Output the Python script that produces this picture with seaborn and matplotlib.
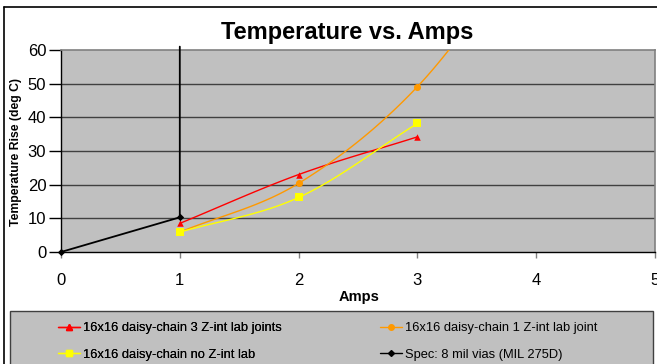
import numpy as np
import pandas as pd
import matplotlib
matplotlib.use("Agg")
import matplotlib.pyplot as plt
from matplotlib.lines import Line2D
from matplotlib.patches import Rectangle
import seaborn as sns

sns.set_theme(style="white")
plt.rcParams["font.family"] = ["Liberation Sans", "DejaVu Sans"]
plt.rcParams["text.color"] = "black"
plt.rcParams["xtick.color"] = "black"
plt.rcParams["ytick.color"] = "black"

# ---- data -------------------------------------------------------------
amps_3joint = [1, 2, 3]
temp_3joint = [8.5, 23.0, 34.2]

amps_1joint = [1, 2, 3, 4]
temp_1joint = [5.9, 20.4, 49.1, 95.0]

amps_nojoint = [1, 2, 3]
temp_nojoint = [5.9, 16.2, 38.2]

amps_spec = [0, 1, 1]
temp_spec = [0.0, 10.3, 61.0]

series_names = [
    "16x16 daisy-chain 3 Z-int lab joints",
    "16x16 daisy-chain 1 Z-int lab joint",
    "16x16 daisy-chain no Z-int lab",
    "Spec: 8 mil vias (MIL 275D)",
]
x_ticks = [0, 1, 2, 3, 4, 5]
y_ticks = [0, 10, 20, 30, 40, 50, 60]

RED, ORANGE, YELLOW, BLACK = "#ff0000", "#ff9900", "#ffff00", "#000000"
PLOT_BG = "#c0c0c0"
W, H = 657, 364


def smooth(xs, ys, n=40):
    """Catmull-Rom style smoothing through the given points."""
    p = np.column_stack([xs, ys]).astype(float)
    ext = np.vstack([2 * p[0] - p[1], p, 2 * p[-1] - p[-2]])
    out = []
    for i in range(1, len(ext) - 2):
        p0, p1, p2, p3 = ext[i - 1], ext[i], ext[i + 1], ext[i + 2]
        c1 = p1 + (p2 - p0) / 6
        c2 = p2 - (p3 - p1) / 6
        t = np.linspace(0, 1, n)[:, None]
        seg = ((1 - t) ** 3) * p1 + 3 * ((1 - t) ** 2) * t * c1 \
            + 3 * (1 - t) * t ** 2 * c2 + t ** 3 * p2
        out.append(seg if i == 1 else seg[1:])
    pts = np.vstack(out)
    return pd.DataFrame({"x": pts[:, 0], "y": pts[:, 1]})


def fx(px):
    return px / W


def fy(py):
    return 1 - py / H


fig = plt.figure(figsize=(W / 100, H / 100), dpi=100)
fig.patch.set_facecolor("white")

# chart-area frame (left and top edges)
fig.add_artist(Line2D([fx(4), fx(4)], [0, fy(7)], color="black",
                      lw=1.2, transform=fig.transFigure))
fig.add_artist(Line2D([fx(4), 1], [fy(7), fy(7)], color="black",
                      lw=1.2, transform=fig.transFigure))

ax = fig.add_axes([fx(61), fy(252), (655 - 61) / W, (252 - 50) / H])
ax.set_facecolor(PLOT_BG)
ax.set_xlim(0, 5)
ax.set_ylim(0, 60)

for v in y_ticks[1:-1]:
    ax.axhline(v, color="#404040", lw=1.0, zorder=1)

# smoothed series
for xs, ys, col in [(amps_3joint, temp_3joint, RED),
                    (amps_1joint, temp_1joint, ORANGE),
                    (amps_nojoint, temp_nojoint, YELLOW)]:
    df = smooth(xs, ys)
    sns.lineplot(data=df, x="x", y="y", sort=False, color=col, lw=1.0,
                 ax=ax, zorder=3, estimator=None)

# spec line (straight segments)
spec_df = pd.DataFrame({"x": amps_spec, "y": temp_spec})
sns.lineplot(data=spec_df, x="x", y="y", sort=False, color=BLACK, lw=1.3,
             ax=ax, zorder=4, estimator=None)
ax.lines[-1].set_clip_on(False)

# markers
marker_specs = [
    (amps_3joint, temp_3joint, RED, "^", 22),
    (amps_1joint[:3], temp_1joint[:3], ORANGE, "o", 26),
    (amps_nojoint, temp_nojoint, YELLOW, "s", 30),
    (amps_spec[:2], temp_spec[:2], BLACK, "D", 14),
]
for xs, ys, col, mk, sz in marker_specs:
    sns.scatterplot(x=xs, y=ys, color=col, marker=mk, s=sz, linewidth=0,
                    ax=ax, zorder=5, clip_on=False)

# axes styling
for side in ["top", "right"]:
    ax.spines[side].set_color("#808080")
    ax.spines[side].set_linewidth(1.2)
for side in ["left", "bottom"]:
    ax.spines[side].set_color("#000000")
    ax.spines[side].set_linewidth(1.0)

ax.set_xticks(x_ticks)
ax.set_yticks(y_ticks)
ax.tick_params(axis="x", direction="out", length=4.3, width=1, color="#808080",
               labelcolor="black", pad=11, labelsize=12, bottom=True)
ax.tick_params(axis="y", direction="out", length=8.6, width=1, color="#000000",
               labelcolor="black", pad=2, labelsize=12, left=True)
ax.set_xlabel("")
ax.set_ylabel("")
fig.text(fx(359), fy(297), "Amps", ha="center", va="center",
         fontsize=10.5, fontweight="bold", color="black")
fig.text(fx(16), fy(152), "Temperature Rise (deg C)", ha="center",
         va="center", rotation=90, fontsize=8.8, fontweight="bold",
         color="black")

fig.text(fx(347), fy(33), "Temperature vs. Amps", ha="center",
         va="center", fontsize=17, fontweight="bold", color="black")

# legend box
fig.add_artist(Rectangle((fx(10), -0.05), (653 - 10) / W,
                         0.05 + (H - 311) / H, transform=fig.transFigure,
                         facecolor=PLOT_BG, edgecolor="#404040", lw=1.0))

handles = [
    Line2D([], [], color=RED, marker="^", ms=4, mec=RED, lw=1),
    Line2D([], [], color=ORANGE, marker="o", ms=4, mec=ORANGE, lw=1),
    Line2D([], [], color=YELLOW, marker="s", ms=5, mec=YELLOW, lw=1),
    Line2D([], [], color=BLACK, marker="D", ms=3, mec=BLACK, lw=1),
]
leg_kw = dict(loc="upper left", frameon=False, fontsize=9.3, handlelength=1.7,
              handletextpad=0.25, labelspacing=1.12, borderpad=0,
              borderaxespad=0, labelcolor="black")
leg_left = fig.legend([handles[0], handles[2]], [series_names[0], series_names[2]],
                      bbox_to_anchor=(fx(58), fy(322)), **leg_kw)
fig.add_artist(leg_left)
leg_right = fig.legend([handles[1], handles[3]], [series_names[1], series_names[3]],
                       bbox_to_anchor=(fx(380), fy(322)), **leg_kw)

fig.savefig("out.png", dpi=100)
